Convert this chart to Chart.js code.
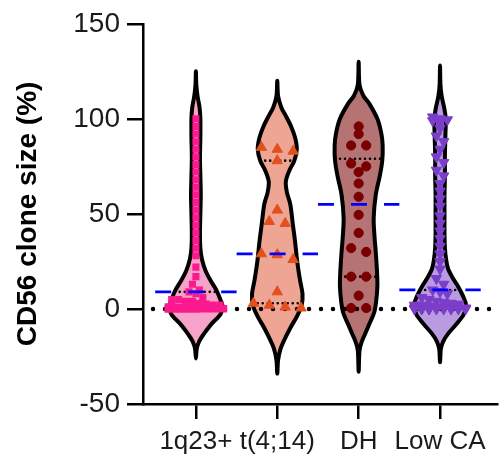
<!DOCTYPE html>
<html>
<head>
<meta charset="utf-8">
<script src="https://cdn.jsdelivr.net/npm/chart.js@4.4.1/dist/chart.umd.min.js"></script>
<style>
  html, body { margin: 0; padding: 0; background: #fff; }
</style>
</head>
<body>
<canvas id="violinChart" width="504" height="460"></canvas>
<script>
// categories and axis ticks
const groups = ["1q23+", "t(4;14)", "DH", "Low CA"];
const yTicks = [-50, 0, 50, 100, 150];

// individual values (%) per group
const values1q23 = [100, 96, 92, 88, 84, 80, 76, 72, 68, 64, 60, 56, 52, 48, 44, 40, 36, 32, 28,
  22, 17, 13, 10, 9, 8, 6, 5, 5, 4, 4, 3, 2.6, 2, 2, 1.5, 1.2, 1, 1, 0.8, 0.5, 0.5, 0.5, 0.3, 0.2,
  0, 0, 0, 0, 0, 0, 0, 0, 0, 0, 0, 0, 0, 0];
const valuesT414 = [85, 84, 83, 78, 52, 46, 45, 29, 28.5, 26, 9, 3, 2, 1, 0.5];
const valuesDH = [96, 92, 86, 86, 76.5, 75, 72, 66, 59, 49.5, 40, 32, 30, 17, 17, 7, 0.5, 0.5];
const valuesLowCA = [101, 100, 99.5, 99, 98, 95, 91, 88, 84, 80, 77, 73, 70, 66, 62, 58, 54, 49, 45,
  41, 37, 33, 29, 25, 21, 16, 13, 10, 9, 8, 6, 5, 4, 3.5, 3, 2.5, 2, 2, 1.5, 1, 1, 1,
  0.5, 0.5, 0.5, 0, 0, 0, 0, 0, 0, 0, 0, 0, 0];

// summary lines
const means = [9, 29, 55, 10];
const lowerQuartiles = [0.5, 3, 17, 0.5];
const upperQuartiles = [9, 78, 79, 10];

// violin density: [value, half width in category units]
const density1q23 = [[125, 0], [118, 0.005], [112, 0.02], [106, 0.045], [100, 0.055], [90, 0.055],
  [80, 0.05], [70, 0.055], [60, 0.06], [50, 0.055], [40, 0.05], [32, 0.055], [26, 0.075],
  [20, 0.12], [15, 0.18], [10, 0.25], [5, 0.3], [1, 0.33], [-3, 0.3], [-8, 0.19], [-13, 0.1],
  [-17, 0.04], [-21, 0.01], [-26, 0]];
const densityT414 = [[120, 0], [112, 0.01], [106, 0.05], [102, 0.1], [96, 0.17], [90, 0.22],
  [84, 0.24], [78, 0.21], [73, 0.15], [67, 0.105], [61, 0.12], [55, 0.16], [45, 0.19],
  [35, 0.22], [25, 0.245], [15, 0.28], [8, 0.31], [2, 0.3], [-4, 0.24], [-10, 0.16],
  [-16, 0.09], [-21, 0.04], [-27, 0.01], [-34, 0]];
const densityDH = [[130, 0], [118, 0.01], [112, 0.06], [108, 0.13], [100, 0.23], [92, 0.28],
  [86, 0.295], [78, 0.29], [70, 0.26], [60, 0.21], [48, 0.185], [38, 0.195], [30, 0.21],
  [20, 0.225], [12, 0.23], [4, 0.215], [-2, 0.19], [-8, 0.13], [-13, 0.08], [-17, 0.04],
  [-22, 0.01], [-33, 0]];
const densityLowCA = [[128, 0], [118, 0.005], [112, 0.02], [106, 0.05], [100, 0.07], [90, 0.065],
  [80, 0.06], [70, 0.06], [60, 0.055], [50, 0.055], [40, 0.055], [32, 0.06], [26, 0.075],
  [21, 0.1], [16, 0.16], [12, 0.22], [7, 0.28], [2, 0.32], [-3, 0.29], [-8, 0.2], [-13, 0.1],
  [-17, 0.04], [-21, 0.01], [-28, 0]];

const allValues = [values1q23, valuesT414, valuesDH, valuesLowCA];
const densities = [density1q23, densityT414, densityDH, densityLowCA];

const violinFills = ["#f7a3c9", "#eea594", "#b57373", "#b89be0"];
const pointColors = ["#fa1a8e", "#e2501e", "#7a0000", "#7b3ec8"];
const pointStyles = ["rect", "triangle", "circle", "triangle"];
const pointRadii = [5, 6, 4.6, 6];
const pointBorders = [0, 1, 1, 1];
const pointRotations = [0, 0, 0, 180];
const swarmSteps = [0.085, 0.195, 0.185, 0.09];

const FONT = "'Liberation Sans', Arial, sans-serif";

function halfWidthAt(profile, v) {
  for (let i = 0; i < profile.length - 1; i++) {
    const [v0, w0] = profile[i];
    const [v1, w1] = profile[i + 1];
    if (v <= v0 && v >= v1) return w0 + (w1 - w0) * (v0 - v) / (v0 - v1);
  }
  return 0;
}

// simple row-binned beeswarm, rows limited to the violin width
function swarm(values, center, profile, step) {
  const binSize = 3.5;
  const sorted = [...values].sort((a, b) => b - a);
  const bins = [];
  sorted.forEach(v => {
    const last = bins[bins.length - 1];
    if (last && v >= last.start - binSize) last.items.push(v);
    else bins.push({ start: v, items: [v] });
  });
  const pts = [];
  bins.forEach(bin => {
    const mid = bin.items.reduce((s, v) => s + v, 0) / bin.items.length;
    const room = Math.floor(2 * halfWidthAt(profile, mid) / step + 1.5);
    const slots = Math.max(1, Math.min(bin.items.length, room));
    bin.items.forEach((v, i) => {
      const k = i % slots;
      pts.push({ x: center + (k - (slots - 1) / 2) * step, y: v });
    });
  });
  return pts;
}

// closed Catmull-Rom curve through pixel points
function smoothClosed(ctx, pts) {
  const n = pts.length;
  ctx.moveTo(pts[0][0], pts[0][1]);
  for (let i = 0; i < n; i++) {
    const p0 = pts[(i - 1 + n) % n], p1 = pts[i], p2 = pts[(i + 1) % n], p3 = pts[(i + 2) % n];
    ctx.bezierCurveTo(
      p1[0] + (p2[0] - p0[0]) / 6, p1[1] + (p2[1] - p0[1]) / 6,
      p2[0] - (p3[0] - p1[0]) / 6, p2[1] - (p3[1] - p1[1]) / 6,
      p2[0], p2[1]);
  }
  ctx.closePath();
}

const violinPlugin = {
  id: "violins",
  beforeDatasetsDraw(chart) {
    const { ctx, scales: { x, y } } = chart;
    densities.forEach((profile, i) => {
      const c = i + 1;
      const right = profile.map(([v, w]) => [x.getPixelForValue(c + w), y.getPixelForValue(v)]);
      const left = profile.slice().reverse().map(([v, w]) => [x.getPixelForValue(c - w), y.getPixelForValue(v)]);
      const pts = right.concat(left.slice(1, -1));
      ctx.save();
      ctx.beginPath();
      smoothClosed(ctx, pts);
      ctx.fillStyle = violinFills[i];
      ctx.fill();
      ctx.lineWidth = 4;
      ctx.lineJoin = "round";
      ctx.strokeStyle = "#000";
      ctx.stroke();
      ctx.restore();
    });
  }
};

const datasets = [];

// zero reference line
datasets.push({
  type: "line",
  data: [{ x: 0.35, y: 0 }, { x: 4.7, y: 0 }],
  borderColor: "#000",
  borderWidth: 4.5,
  borderDash: [0, 12],
  borderDashOffset: 2,
  borderCapStyle: "round",
  pointRadius: 0,
  order: 5
});

// quartile lines inside the violins
groups.forEach((g, i) => {
  [lowerQuartiles[i], upperQuartiles[i]].forEach(q => {
    const w = halfWidthAt(densities[i], q);
    datasets.push({
      type: "line",
      data: [{ x: i + 1 - w, y: q }, { x: i + 1 + w, y: q }],
      borderColor: "#000",
      borderWidth: 2.6,
      borderDash: [0, 5],
      borderCapStyle: "round",
      pointRadius: 0,
      order: 4
    });
  });
});

// individual points
groups.forEach((g, i) => {
  datasets.push({
    type: "scatter",
    label: g,
    data: swarm(allValues[i], i + 1, densities[i], swarmSteps[i]),
    pointStyle: pointStyles[i],
    pointRadius: pointRadii[i],
    pointRotation: pointRotations[i],
    backgroundColor: pointColors[i],
    borderColor: pointColors[i],
    borderWidth: pointBorders[i],
    order: 2
  });
});

// mean lines
groups.forEach((g, i) => {
  datasets.push({
    type: "line",
    data: [{ x: i + 0.5, y: means[i] }, { x: i + 1.5, y: means[i] }],
    borderColor: "#0000ff",
    borderWidth: 2.8,
    borderDash: [16, 17],
    pointRadius: 0,
    order: 1
  });
});

new Chart(document.getElementById("violinChart"), {
  type: "scatter",
  data: { datasets },
  options: {
    responsive: false,
    animation: false,
    layout: { padding: { top: 20, right: 7, left: 0, bottom: 0 } },
    plugins: { legend: { display: false }, tooltip: { enabled: false } },
    scales: {
      x: {
        type: "linear",
        min: 0.35,
        max: 4.7,
        afterBuildTicks: s => { s.ticks = groups.map((g, i) => ({ value: i + 1 })); },
        afterFit: s => { s.height = 56; },
        ticks: {
          callback: v => groups[Math.round(v) - 1] || "",
          color: "#1a1a1a",
          font: { family: FONT, size: 26 },
          padding: 7,
          maxRotation: 0,
          autoSkip: false
        },
        grid: { drawOnChartArea: false, drawTicks: true, tickLength: 15, color: "#000", lineWidth: 2.5 },
        border: { display: true, color: "#000", width: 2.5 }
      },
      y: {
        min: -50,
        max: 150,
        afterBuildTicks: s => { s.ticks = yTicks.map(v => ({ value: v })); },
        afterFit: s => { s.width = 143; },
        ticks: {
          color: "#1a1a1a",
          font: { family: FONT, size: 28 },
          padding: 7
        },
        grid: { drawOnChartArea: false, drawTicks: true, tickLength: 16, color: "#000", lineWidth: 2.5 },
        border: { display: true, color: "#000", width: 2.5 },
        title: {
          display: true,
          text: "CD56 clone size (%)",
          color: "#000",
          font: { family: FONT, size: 28, weight: "bold" },
          padding: { top: 11, bottom: 0 }
        }
      }
    }
  },
  plugins: [violinPlugin]
});
</script>
</body>
</html>
